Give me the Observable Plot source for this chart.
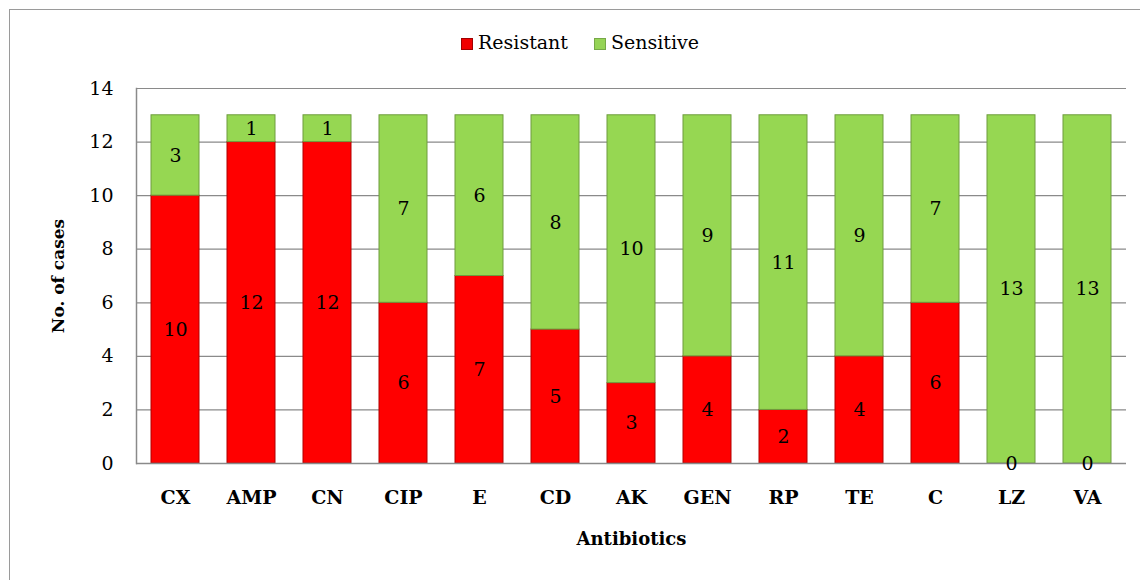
<!DOCTYPE html>
<html><head><meta charset="utf-8">
<script src="https://cdn.jsdelivr.net/npm/d3@7"></script>
<script src="https://cdn.jsdelivr.net/npm/@observablehq/plot@0.6"></script>
<style>
body{margin:0;background:#fff;width:1140px;height:580px;overflow:hidden;position:relative;font-family:"DejaVu Serif",serif;}
#frame{position:absolute;left:9px;top:9px;width:1200px;height:640px;border:1px solid #9a9a9a;box-sizing:border-box;}
#chart{position:absolute;left:0;top:0;}
.lg{position:absolute;top:31px;font-size:19px;color:#000;line-height:22px;white-space:nowrap;}
.sw{display:inline-block;width:12px;height:12px;margin-right:5px;vertical-align:-1px;box-sizing:border-box;}
</style></head>
<body>
<div id="frame"></div>
<div id="chart"></div>
<div class="lg" style="left:461px"><span class="sw" style="background:#f00000;border:1px solid #a00000"></span>Resistant</div>
<div class="lg" style="left:594px"><span class="sw" style="background:#96d456;border:1px solid #77a848"></span>Sensitive</div>
<script>
const antibiotics = ["CX","AMP","CN","CIP","E","CD","AK","GEN","RP","TE","C","LZ","VA"];
const resistant = [10,12,12,6,7,5,3,4,2,4,6,0,0];
const sensitive = [3,1,1,7,6,8,10,9,11,9,7,13,13];
const seriesNames = ["Resistant","Sensitive"];
const yTicks = [0,2,4,6,8,10,12,14];
const gridTicks = [2,4,6,8,10,12,14];
const colors = {Resistant:"#ff0000", Sensitive:"#96d752"};
const strokes = {Resistant:"#b00000", Sensitive:"#6e9c3e"};

const data = [];
antibiotics.forEach((a,i)=>{
  data.push({drug:a, type:"Resistant", value:resistant[i]});
  data.push({drug:a, type:"Sensitive", value:sensitive[i]});
});

const plot = Plot.plot({
  width:1140, height:580,
  marginLeft:136, marginRight:14, marginTop:88, marginBottom:117,
  style:{fontFamily:"DejaVu Serif, serif", fontSize:"19px", color:"#000", background:"transparent"},
  x:{domain:antibiotics, paddingInner:0.37, paddingOuter:0.14, label:null},
  y:{domain:[0,14], label:null},
  color:{domain:seriesNames, range:[colors.Resistant, colors.Sensitive]},
  marks:[
    Plot.ruleY(gridTicks, {stroke:"#8a8a8a", strokeWidth:1.2, strokeOpacity:1}),
    Plot.barY(data, Plot.stackY({x:"drug", y:"value", z:"type", fill:"type", stroke:d=>strokes[d.type], strokeWidth:1, order:seriesNames})),
    Plot.ruleY([0], {stroke:"#8a8a8a", strokeWidth:1.5}),
    Plot.frame({anchor:"left", stroke:"#8a8a8a", strokeWidth:1.5}),
    Plot.text(data, Plot.stackY({x:"drug", y:"value", z:"type", text:d=>String(d.value), fill:"#000", fontSize:19, order:seriesNames})),
    Plot.axisY({ticks:yTicks, tickSize:0, tickPadding:23, label:null, fontSize:19}),
    Plot.axisX({tickSize:0, tickPadding:27, label:null, fontWeight:"bold", fontSize:19}),
    Plot.text(["No. of cases"], {frameAnchor:"left", dx:-78, rotate:-90, textAnchor:"middle", text:d=>d, fontWeight:"bold", fontSize:17}),
    Plot.text(["Antibiotics"], {frameAnchor:"bottom", dy:81, textAnchor:"middle", text:d=>d, fontWeight:"bold", fontSize:18})
  ]
});
document.getElementById("chart").appendChild(plot);
</script>
</body></html>
